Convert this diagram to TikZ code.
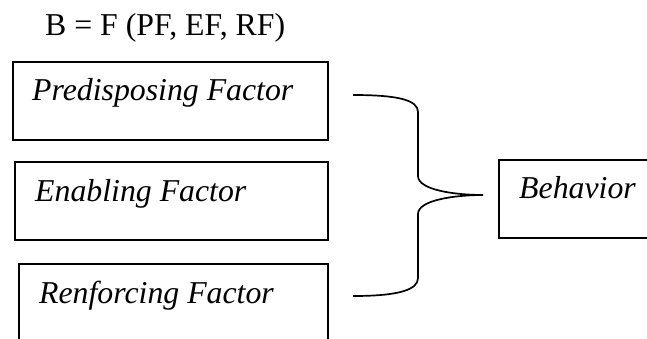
\documentclass[tikz,border=0pt]{standalone}
\usepackage{fontspec}
\setmainfont{Liberation Serif}
\begin{document}
\begin{tikzpicture}[x=1pt,y=-1pt,
  box/.style={draw=black, line width=1.7pt, rectangle, inner sep=0pt, anchor=north west},
  lbl/.style={anchor=base west, inner sep=0pt, font=\fontsize{31.8}{36}\selectfont\itshape},
  title/.style={anchor=base west, inner sep=0pt, font=\fontsize{31.8}{36}\selectfont},
  brace/.style={draw=black, line width=1.7pt}]
\useasboundingbox (0,0) rectangle (647,338);
\clip (0,0) rectangle (647,338);
\node[title] (eq) at (45,35) {B = F (PF, EF, RF)};
\node[box, minimum width=315pt, minimum height=78pt] (pf) at (12,61) {};
\node[lbl] (pft) at (32,100) {Predisposing Factor};
\node[box, minimum width=313pt, minimum height=78pt] (ef) at (14,161) {};
\node[lbl] (eft) at (35,201) {Enabling Factor};
\node[box, minimum width=309pt, minimum height=95pt] (rf) at (18,263) {};
\node[lbl] (rft) at (39,303) {Renforcing Factor};
\node[box, minimum width=170pt, minimum height=78pt] (bh) at (498,159) {};
\node[lbl] (bht) at (519,198) {Behavior};
\coordinate (top) at (353,95);
\coordinate (bot) at (353,296);
\coordinate (tip) at (483,195);
\draw[brace] (top) .. controls (398,95) and (418,100) .. (418,112)
  -- (418,176) .. controls (418,190) and (455,195) .. (tip)
  .. controls (455,195) and (418,200) .. (418,214)
  -- (418,278) .. controls (418,290) and (398,296) .. (bot);
\end{tikzpicture}
\end{document}
